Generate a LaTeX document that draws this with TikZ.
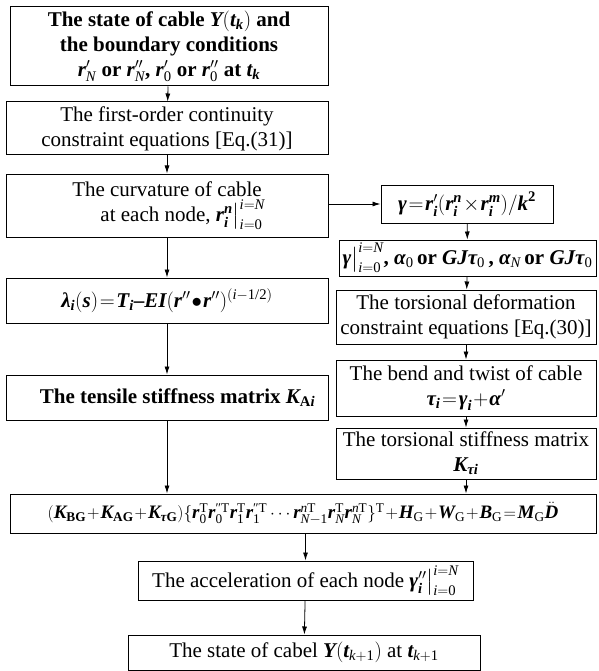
\documentclass[tikz,border=0pt]{standalone}
\usepackage{fontspec}
\usepackage{amsmath}
\setmainfont{Liberation Serif}
\usetikzlibrary{arrows.meta}
\medmuskip=1mu
\thickmuskip=1.5mu
\newcommand{\bv}[1]{\text{\bfseries\itshape #1}}
\newcommand{\iv}[1]{\text{\normalfont\itshape #1}}
\newcommand{\up}[1]{\text{\normalfont #1}}
\newcommand{\bup}[1]{\text{\normalfont\bfseries #1}}
\newcommand{\evalbar}{\big|^{\iv{i}=\iv{N}}_{\iv{i}=\up{0}}}
\begin{document}
\begin{tikzpicture}[x=1pt, y=-1pt,
    box/.style={rectangle, draw, line width=1pt, align=center, inner sep=1pt, font=\fontsize{21}{25}\selectfont},
    boldbox/.style={box, font=\fontsize{21}{25}\selectfont\bfseries},
    arrow/.style={->, >={Latex[length=8pt,width=5pt]}, line width=0.8pt}
]
\useasboundingbox (0,0) rectangle (598,671);
% left column
\node[boldbox, minimum width=318pt, minimum height=79pt] (state) at (169,46.5)
  {The state of cable $\bv{Y}(\bv{t}_{\bv{k}})$ and\\ the boundary conditions\\
   $\bv{r}'_{\iv{N}}$ or $\bv{r}''_{\iv{N}}$, $\bv{r}'_{\up{0}}$ or $\bv{r}''_{\up{0}}$ at $\bv{t}_{\bv{k}}$};
\node[box, minimum width=322pt, minimum height=53pt] (cont) at (167,128.5)
  {The first-order continuity\\ constraint equations [Eq.(31)]};
\node[box, minimum width=322pt, minimum height=63pt] (curv) at (167,205.5)
  {The curvature of cable\\ \hspace*{1.5em}at each node, $\bv{r}^{\bv{n}}_{\bv{i}}\evalbar$};
\node[boldbox, minimum width=322pt, minimum height=45pt] (lambda) at (167,300.5)
  {$\bv{λ}_{\bv{i}}(\bv{s})=\bv{T}_{\bv{i}}\text{–}\bv{EI}(\bv{r}''\bullet\bv{r}'')^{(\iv{i}-\up{1/2})}$};
\node[boldbox, minimum width=322pt, minimum height=45pt] (tensile) at (167,397.5)
  {\hspace*{1em}The tensile stiffness matrix $\bv{K}_{\bup{A}\bv{i}}$};
% right column
\node[boldbox, minimum width=172pt, minimum height=38pt] (gamma) at (467,204)
  {$\bv{γ}=\bv{r}'_{\bv{i}}(\bv{r}^{\bv{n}}_{\bv{i}}\times\bv{r}^{\bv{m}}_{\bv{i}})/\bv{k}^{\bup{2}}$};
\node[boldbox, minimum width=257pt, minimum height=36pt] (bound) at (467.5,258)
  {$\bv{γ}\evalbar$, $\bv{α}_{\up{0}}$\,or $\bv{GJτ}_{\up{0}}$\,, $\bv{α}_{\iv{N}}$\,or $\bv{GJτ}_{\up{0}}$};
\node[box, minimum width=260pt, minimum height=54pt] (torsdef) at (466,317)
  {The torsional deformation\\ constraint equations [Eq.(30)]};
\node[box, minimum width=260pt, minimum height=56pt] (bend) at (466,388)
  {The bend and twist of cable\\ $\bv{τ}_{\bv{i}}=\bv{γ}_{\bv{i}}+\bv{α}'$};
\node[box, minimum width=260pt, minimum height=51pt] (torstiff) at (466,453.5)
  {The torsional stiffness matrix\\ $\bv{K}_{\bv{τi}}$};
% bottom
\node[boldbox, minimum width=586pt, minimum height=39pt, font=\fontsize{19}{23}\selectfont\bfseries] (motion) at (303,513.5)
  {$(\bv{K}_{\bup{BG}}+\bv{K}_{\bup{AG}}+\bv{K}_{\bv{τ}\bup{G}})\{\bv{r}^{\up{T}}_{\up{0}}\bv{r}^{\up{″T}}_{\up{0}}\bv{r}^{\up{T}}_{\up{1}}\bv{r}^{\up{″T}}_{\up{1}}\cdots\bv{r}^{\iv{n}\up{T}}_{\iv{N}-\up{1}}\bv{r}^{\up{T}}_{\iv{N}}\bv{r}^{\iv{n}\up{T}}_{\iv{N}}\}^{\up{T}}+\bv{H}_{\up{G}}+\bv{W}_{\up{G}}+\bv{B}_{\up{G}}=\bv{M}_{\up{G}}\ddot{\bv{D}}$};
\node[box, minimum width=335pt, minimum height=39pt] (accel) at (305.5,580.5)
  {The acceleration of each node $\bv{γ}_{\bv{i}}''\evalbar$};
\node[box, minimum width=352pt, minimum height=35pt] (final) at (304,652.5)
  {The state of cabel $\bv{Y}(\bv{t}_{\iv{k}+\up{1}})$ at $\bv{t}_{\iv{k}+\up{1}}$};
% arrows
\draw[arrow] (state) -- (cont);
\draw[arrow] (cont) -- (curv);
\draw[arrow] (curv) -- (lambda);
\draw[arrow] (lambda) -- (tensile);
\draw[arrow] (curv.east |- gamma) -- (gamma);
\draw[arrow] (gamma) -- (bound);
\draw[arrow] (bound) -- (torsdef);
\draw[arrow] (torsdef) -- (bend);
\draw[arrow] (bend) -- (torstiff);
\draw[arrow] (tensile) -- (tensile |- motion.north);
\draw[arrow] (torstiff) -- (torstiff |- motion.north);
\draw[arrow] (motion.south -| accel) -- (accel);
\draw[arrow] (accel) -- (final);
\end{tikzpicture}
\end{document}
